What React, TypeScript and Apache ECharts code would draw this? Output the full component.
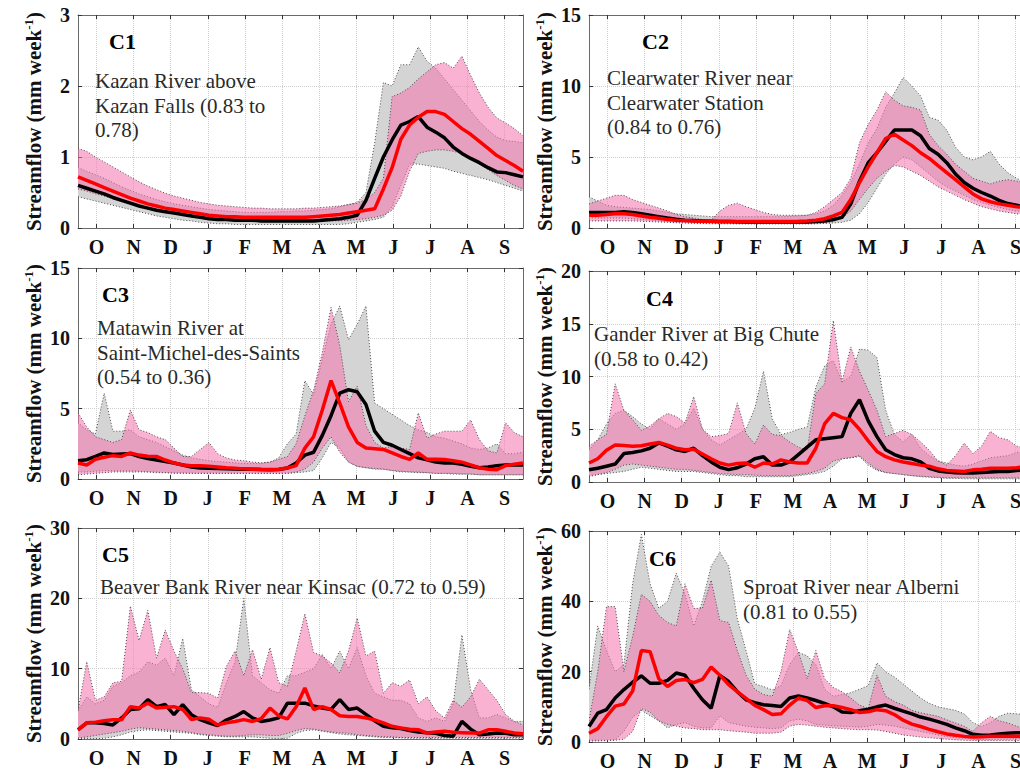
import React, { useEffect, useRef } from 'react';
import * as echarts from 'echarts';

const MONTHS = ['O', 'N', 'D', 'J', 'F', 'M', 'A', 'M', 'J', 'J', 'A', 'S'];
const WEEKS = Array.from({ length: 52 }, (_, i) => i);
const Y_NAME = 'Streamflow (mm week';

// ---------- C1 ----------
const OBS_MED_C1 = [0.60,0.56,0.52,0.48,0.43,0.39,0.35,0.31,0.28,0.25,0.23,0.21,0.19,
  0.17,0.15,0.13,0.12,0.12,0.11,0.11,0.11,0.10,0.10,0.10,0.10,0.10,
  0.10,0.10,0.11,0.12,0.13,0.15,0.18,0.39,0.70,1.00,1.24,1.45,1.50,
  1.57,1.42,1.35,1.27,1.14,1.05,0.98,0.92,0.85,0.79,0.78,0.75,0.72];
const SIM_MED_C1 = [0.72,0.67,0.62,0.57,0.52,0.47,0.42,0.38,0.34,0.31,0.28,0.26,0.24,
  0.22,0.20,0.18,0.17,0.16,0.16,0.15,0.15,0.15,0.15,0.15,0.15,0.15,
  0.15,0.16,0.17,0.18,0.19,0.21,0.23,0.25,0.27,0.55,0.85,1.25,1.45,
  1.56,1.64,1.64,1.60,1.50,1.40,1.32,1.22,1.12,1.02,0.95,0.88,0.80];
const OBS_MAX_C1 = [0.85,0.80,0.75,0.70,0.64,0.58,0.53,0.48,0.44,0.40,0.37,0.34,0.32,
  0.30,0.28,0.26,0.25,0.24,0.23,0.22,0.22,0.22,0.22,0.23,0.23,0.24,
  0.24,0.25,0.26,0.27,0.30,0.33,0.36,0.50,1.20,2.05,2.00,2.30,2.30,
  2.55,2.35,2.25,2.10,1.95,1.80,1.65,1.50,1.38,1.28,1.23,1.22,1.20];
const OBS_MIN_C1 = [0.44,0.41,0.38,0.35,0.32,0.29,0.26,0.23,0.20,0.17,0.15,0.13,0.11,
  0.10,0.08,0.07,0.06,0.06,0.05,0.05,0.05,0.05,0.05,0.05,0.05,0.05,
  0.05,0.05,0.05,0.05,0.05,0.06,0.08,0.10,0.12,0.15,0.30,0.60,0.90,
  0.90,0.88,0.86,0.84,0.80,0.77,0.74,0.71,0.68,0.64,0.60,0.56,0.52];
const SIM_MAX_C1 = [1.12,1.08,1.00,0.93,0.86,0.79,0.72,0.65,0.59,0.54,0.49,0.45,0.42,
  0.39,0.36,0.34,0.32,0.31,0.30,0.29,0.28,0.28,0.27,0.27,0.27,0.27,
  0.28,0.28,0.29,0.30,0.31,0.33,0.35,0.40,0.50,0.70,1.85,1.90,1.98,
  2.10,2.20,2.30,2.33,2.25,2.42,2.15,1.90,1.70,1.55,1.48,1.40,1.30];
const SIM_MIN_C1 = [0.55,0.52,0.48,0.45,0.41,0.37,0.33,0.30,0.27,0.24,0.22,0.20,0.18,
  0.16,0.14,0.13,0.12,0.11,0.11,0.10,0.10,0.10,0.10,0.10,0.10,0.10,
  0.10,0.10,0.10,0.10,0.10,0.11,0.12,0.13,0.15,0.18,0.25,0.45,0.80,
  1.05,1.08,1.10,1.10,1.08,1.05,0.98,0.90,0.82,0.74,0.67,0.60,0.55];

// ---------- C2 ----------
const OBS_MED_C2 = [1.10,1.10,1.10,1.10,1.15,1.10,1.00,0.90,0.80,0.70,0.62,0.55,0.52,
  0.50,0.48,0.45,0.45,0.44,0.43,0.42,0.42,0.42,0.42,0.42,0.42,0.43,
  0.45,0.50,0.60,0.75,1.70,3.30,4.60,5.30,6.10,6.90,6.90,6.90,6.50,
  5.60,5.20,4.60,3.80,3.20,2.80,2.50,2.25,1.95,1.72,1.60,1.45,1.35];
const SIM_MED_C2 = [0.90,0.90,0.95,1.00,1.00,0.95,0.85,0.75,0.68,0.60,0.55,0.52,0.50,
  0.48,0.47,0.46,0.45,0.45,0.45,0.45,0.45,0.45,0.45,0.45,0.47,0.50,
  0.55,0.65,0.85,1.10,2.00,3.20,4.30,5.30,6.30,6.60,6.20,5.80,5.30,
  4.90,4.40,3.90,3.40,2.90,2.40,2.05,1.85,1.70,1.60,1.50,1.45,1.40];
const OBS_MAX_C2 = [2.20,1.90,1.60,1.50,1.45,1.40,1.35,1.30,1.20,1.10,1.00,0.95,0.90,
  0.85,0.80,0.80,0.80,0.80,0.80,0.80,0.80,0.80,0.80,0.82,0.85,0.90,
  1.00,1.20,1.60,2.30,3.20,4.50,6.00,7.00,8.50,9.50,10.60,10.00,9.30,
  7.80,7.60,6.90,5.70,5.00,4.80,5.00,5.40,4.50,3.90,3.50,3.20,3.00];
const OBS_MIN_C2 = [0.70,0.70,0.70,0.70,0.70,0.65,0.60,0.55,0.50,0.45,0.40,0.38,0.36,
  0.35,0.33,0.32,0.31,0.30,0.30,0.30,0.30,0.30,0.30,0.30,0.30,0.30,
  0.30,0.32,0.35,0.40,0.55,1.00,1.80,2.80,3.80,4.50,5.00,4.80,4.30,
  3.80,3.30,2.90,2.60,2.30,2.00,1.80,1.60,1.45,1.30,1.20,1.10,1.00];
const SIM_MAX_C2 = [1.70,1.90,2.10,2.30,2.30,2.00,1.80,1.60,1.40,1.20,0.95,0.80,0.70,
  0.60,0.55,1.20,1.60,1.75,1.50,1.30,1.10,0.95,0.90,0.90,0.90,0.90,
  1.10,1.50,2.00,2.50,3.50,6.00,7.30,8.30,9.60,9.00,8.60,8.50,8.30,
  6.60,5.80,5.20,4.50,4.00,3.50,3.30,3.10,3.30,3.40,3.30,3.20,3.10];
const SIM_MIN_C2 = [0.50,0.50,0.50,0.50,0.50,0.50,0.48,0.45,0.42,0.40,0.37,0.35,0.33,
  0.32,0.30,0.30,0.30,0.30,0.30,0.30,0.30,0.30,0.30,0.30,0.30,0.30,
  0.30,0.35,0.45,0.70,1.20,2.00,2.80,3.50,4.00,4.40,4.30,4.00,3.70,
  3.30,2.90,2.60,2.30,2.00,1.75,1.50,1.35,1.20,1.10,1.00,0.95,0.90];

// ---------- C3 ----------
const OBS_MED_C3 = [1.30,1.37,1.60,1.85,1.75,1.78,1.80,1.60,1.45,1.35,1.25,1.14,1.00,
  0.85,0.78,0.76,0.74,0.72,0.71,0.70,0.69,0.67,0.66,0.68,0.78,1.14,
  1.70,1.90,3.10,4.50,6.10,6.35,6.20,5.30,3.40,2.60,2.40,2.10,1.80,
  1.50,1.37,1.20,1.14,1.14,1.05,0.90,0.80,0.85,0.95,1.00,1.00,1.00];
const SIM_MED_C3 = [1.14,1.00,1.40,1.55,1.66,1.60,1.85,1.70,1.62,1.60,1.35,1.14,1.00,
  0.95,0.95,0.90,0.85,0.80,0.76,0.72,0.70,0.68,0.67,0.70,0.78,0.95,
  2.20,3.00,4.90,7.00,5.40,3.70,2.60,2.20,2.15,2.10,1.85,1.60,1.40,
  1.85,1.40,1.40,1.38,1.30,1.20,1.00,0.80,0.70,0.66,0.95,1.05,1.14];
const OBS_MAX_C3 = [4.00,3.50,3.20,6.10,3.40,3.40,3.50,3.00,2.80,2.60,2.30,2.00,1.70,
  1.50,1.40,1.30,1.25,1.20,1.15,1.10,1.10,1.10,1.20,1.50,2.50,3.20,
  7.00,6.00,8.50,11.00,12.30,9.90,11.00,12.30,5.40,5.00,4.60,4.20,3.80,
  3.50,3.30,3.00,2.90,2.70,2.50,2.20,2.10,2.20,2.50,1.80,1.80,1.90];
const OBS_MIN_C3 = [0.50,0.50,0.55,0.60,0.60,0.60,0.60,0.55,0.50,0.50,0.45,0.45,0.45,
  0.40,0.40,0.40,0.40,0.40,0.40,0.40,0.40,0.40,0.40,0.40,0.40,0.45,
  0.50,0.60,1.50,2.60,2.20,1.20,0.90,0.80,0.70,0.70,0.60,0.50,0.50,
  0.45,0.45,0.40,0.40,0.35,0.35,0.35,0.30,0.30,0.30,0.30,0.30,0.30];
const SIM_MAX_C3 = [4.70,3.70,3.00,2.80,2.60,2.80,4.90,3.50,3.30,3.00,2.80,2.20,1.60,
  1.60,2.10,2.60,1.80,1.50,1.35,1.30,1.20,1.15,1.20,1.40,1.60,2.50,
  4.50,6.30,9.00,12.20,9.50,5.50,6.60,3.80,2.60,2.20,2.30,2.20,2.10,
  4.70,2.90,3.20,3.40,3.40,3.40,4.20,2.80,2.00,1.85,4.00,3.30,3.00];
const SIM_MIN_C3 = [0.30,0.35,0.40,0.45,0.50,0.50,0.50,0.50,0.50,0.45,0.45,0.40,0.40,
  0.40,0.40,0.40,0.40,0.40,0.40,0.40,0.40,0.40,0.40,0.40,0.40,0.50,
  0.70,1.20,2.20,3.00,1.90,1.20,0.90,0.80,0.75,0.70,0.60,0.55,0.50,
  0.50,0.45,0.40,0.40,0.40,0.35,0.35,0.30,0.30,0.30,0.30,0.30,0.30];

// ---------- C4 ----------
const OBS_MED_C4 = [1.17,1.30,1.50,1.70,2.70,2.80,2.95,3.20,3.70,3.40,3.05,2.90,3.20,
  2.50,1.90,1.40,1.17,1.35,1.70,2.20,2.40,1.60,1.60,1.90,2.60,3.30,
  4.00,4.10,4.20,4.30,6.50,7.80,5.80,4.30,3.05,2.60,2.30,2.20,1.90,
  1.30,1.05,0.95,0.88,0.85,0.85,0.90,0.95,1.00,1.00,1.10,1.15,1.20];
const SIM_MED_C4 = [1.80,2.20,3.00,3.50,3.45,3.40,3.43,3.60,3.75,3.50,3.20,3.05,3.10,
  2.65,2.20,1.80,1.60,1.75,1.80,1.40,1.80,1.70,2.10,1.90,1.80,1.80,
  3.20,5.50,6.50,6.10,5.90,5.00,3.90,2.90,2.40,2.10,1.90,1.75,1.60,
  1.50,1.25,1.10,1.05,1.00,1.15,1.20,1.30,1.30,1.30,1.35,1.45,1.50];
const OBS_MAX_C4 = [3.00,4.00,5.50,6.50,6.80,6.20,5.50,5.00,6.00,5.50,5.00,5.50,7.00,
  5.00,4.00,3.50,4.00,4.50,5.00,7.00,10.50,6.00,4.50,4.70,5.00,5.20,
  9.00,11.00,11.50,9.50,10.00,12.60,12.50,11.80,6.80,4.50,3.80,4.50,3.20,
  2.50,2.00,1.80,1.60,1.50,1.70,2.00,2.30,2.40,2.50,2.80,3.00,3.00];
const OBS_MIN_C4 = [0.60,0.70,0.80,0.90,1.00,1.20,1.40,1.30,1.20,1.10,1.00,1.00,1.00,
  0.90,0.80,0.70,0.60,0.60,0.50,0.50,0.50,0.50,0.50,0.50,0.60,0.70,
  0.80,1.00,1.50,2.20,2.30,2.40,1.60,1.10,0.90,0.80,0.70,0.60,0.50,
  0.45,0.40,0.35,0.35,0.30,0.30,0.30,0.30,0.30,0.30,0.30,0.30,0.30];
const SIM_MAX_C4 = [3.40,4.00,4.50,9.30,6.80,5.90,4.90,5.30,6.00,6.50,6.20,5.60,8.10,
  5.00,4.30,4.40,4.60,7.50,4.60,3.60,5.40,4.50,4.40,3.80,3.30,3.00,
  8.40,9.30,15.30,9.50,12.80,10.50,8.70,6.80,4.30,4.60,4.90,4.50,3.80,
  3.00,2.00,1.60,2.50,3.70,2.70,3.40,4.80,4.20,4.00,3.40,3.20,3.00];
const SIM_MIN_C4 = [0.50,0.70,0.90,1.20,1.60,1.70,1.60,1.50,1.40,1.30,1.20,1.20,1.10,
  1.00,0.90,0.80,0.75,0.70,0.70,0.65,0.60,0.60,0.60,0.60,0.70,0.80,
  1.00,1.30,2.00,2.20,2.30,2.50,1.80,1.20,0.90,0.80,0.70,0.60,0.55,
  0.50,0.45,0.40,0.40,0.40,0.40,0.40,0.40,0.40,0.40,0.40,0.40,0.40];

// ---------- C5 ----------
const OBS_MED_C5 = [1.30,2.30,2.30,2.20,2.00,3.00,4.20,4.30,5.60,4.60,4.90,3.45,4.90,
  3.45,2.75,2.30,1.90,2.70,3.20,3.90,3.00,2.50,2.70,3.00,5.10,5.10,
  5.10,4.70,4.40,4.20,5.60,4.20,4.40,3.50,2.60,1.80,1.60,1.50,1.20,
  1.00,0.90,0.80,0.50,0.40,2.50,1.40,0.60,0.70,0.85,0.80,0.60,0.60];
const SIM_MED_C5 = [1.30,2.30,2.40,2.60,2.75,2.75,4.60,4.40,5.10,4.40,4.50,4.60,4.20,
  2.75,3.00,2.80,2.00,2.30,2.50,2.75,2.50,2.90,4.40,3.30,2.85,4.60,
  7.25,4.20,4.60,4.20,3.30,3.20,3.20,3.00,2.70,2.30,1.80,1.56,1.40,
  1.33,0.85,1.00,1.10,0.95,0.90,0.85,0.85,1.30,1.33,1.10,0.85,0.75];
const OBS_MAX_C5 = [4.00,6.00,5.00,5.50,7.50,8.00,9.00,9.50,11.00,10.50,11.50,9.00,14.30,
  7.00,6.00,5.00,4.50,8.00,11.00,20.00,9.00,8.00,7.00,6.50,9.00,9.00,
  9.50,10.00,12.00,10.00,12.50,10.00,13.00,9.00,6.50,6.00,5.50,5.50,5.00,
  3.00,2.50,3.00,2.50,5.00,14.80,7.00,3.00,3.00,3.50,3.00,2.50,2.50];
const OBS_MIN_C5 = [0.10,0.05,0.05,0.10,0.30,0.60,1.00,1.20,1.30,1.20,1.10,1.00,0.90,
  0.80,0.60,0.50,0.40,0.30,0.30,0.30,0.30,0.20,0.10,0.05,0.10,0.80,
  1.20,1.30,1.10,0.90,0.70,0.60,0.50,0.40,0.30,0.20,0.20,0.15,0.10,
  0.10,0.10,0.10,0.10,0.10,0.10,0.10,0.10,0.10,0.10,0.10,0.10,0.10];
const SIM_MAX_C5 = [4.00,11.00,5.50,6.00,8.00,8.20,18.90,14.00,18.30,11.50,15.50,12.50,10.00,
  6.60,6.60,6.50,5.80,10.30,12.50,9.00,12.70,8.50,13.00,8.00,7.50,12.50,
  17.80,12.30,11.80,10.80,9.40,12.50,17.20,11.80,12.50,6.50,8.00,7.50,8.40,
  5.00,6.00,4.00,3.00,5.50,4.50,6.00,8.50,7.00,5.50,3.50,2.50,2.00];
const SIM_MIN_C5 = [0.10,0.30,0.50,0.70,0.90,1.10,1.40,1.60,1.50,1.40,1.30,1.20,1.10,
  0.90,0.70,0.60,0.50,0.40,0.40,0.50,0.60,0.60,0.50,0.50,0.80,1.20,
  1.50,1.40,1.20,1.00,0.90,0.80,0.60,0.50,0.40,0.30,0.30,0.20,0.20,
  0.20,0.20,0.20,0.20,0.20,0.20,0.20,0.20,0.20,0.20,0.20,0.20,0.20];

// ---------- C6 ----------
const OBS_MED_C6 = [4.40,8.20,9.20,12.50,14.90,17.00,18.80,16.70,16.70,17.50,19.60,19.00,15.30,
  12.00,9.60,18.90,17.20,14.30,12.00,11.20,10.60,10.40,10.10,12.50,13.10,12.50,
  11.80,11.00,10.00,8.50,8.40,8.90,9.30,10.00,10.50,9.60,8.80,8.00,7.10,
  6.50,5.80,5.00,4.00,3.20,2.20,1.90,2.00,2.30,2.50,2.60,2.70,2.80];
const SIM_MED_C6 = [2.50,3.80,7.20,10.20,10.80,14.50,26.00,25.70,18.00,15.80,17.50,17.80,16.90,
  17.80,21.30,19.00,16.30,14.30,12.40,10.40,9.20,7.80,8.00,10.50,12.50,11.80,
  9.80,10.30,10.30,9.80,9.20,8.40,8.60,9.20,8.90,7.80,6.20,5.10,4.40,
  3.60,2.90,2.30,1.90,1.60,1.40,1.50,1.60,1.60,1.60,1.60,1.60,1.60];
const OBS_MAX_C6 = [15.00,33.00,26.00,20.00,22.00,45.00,59.00,45.00,38.00,40.00,48.00,42.00,33.00,
  40.00,50.00,54.00,50.00,35.00,26.00,16.50,15.80,14.80,16.00,22.00,25.50,24.50,
  22.00,15.00,13.00,13.50,14.00,15.00,16.00,22.50,20.00,18.50,16.50,14.50,12.50,
  11.00,10.00,9.50,9.00,8.00,5.50,4.40,5.50,7.30,8.20,8.00,7.80,7.50];
const OBS_MIN_C6 = [0.50,0.50,0.50,0.60,3.00,7.00,9.00,7.50,6.00,4.00,5.00,5.50,4.50,
  4.00,4.00,7.50,5.50,5.00,4.50,4.20,4.00,3.80,4.00,6.00,6.50,6.00,
  5.00,4.80,4.60,4.50,4.40,4.20,4.50,5.00,4.80,4.50,4.00,3.50,3.00,
  2.50,2.00,1.50,1.20,1.00,0.80,0.70,0.70,0.80,0.80,0.90,1.00,1.00];
const SIM_MAX_C6 = [6.00,20.00,38.50,38.50,20.00,30.00,42.00,40.00,36.00,34.00,33.00,45.00,38.00,
  38.00,46.00,34.50,34.00,26.00,19.00,15.00,13.50,13.00,20.00,32.00,25.50,18.00,
  26.00,18.00,15.50,14.30,12.50,10.50,9.50,19.00,13.00,11.50,10.50,9.00,8.30,
  7.80,7.30,6.30,5.40,4.50,3.00,5.50,7.30,6.00,5.40,4.50,3.50,3.00];
const SIM_MIN_C6 = [0.30,0.30,0.40,0.50,0.80,3.00,9.50,8.50,6.00,5.00,4.50,4.00,3.80,
  3.50,3.50,3.50,3.20,3.00,2.80,2.50,2.50,2.50,2.80,4.50,5.00,4.80,
  4.50,4.20,4.00,3.80,3.60,3.50,3.50,3.40,3.00,2.50,2.00,1.70,1.40,
  1.20,1.00,0.80,0.60,0.50,0.40,0.40,0.40,0.40,0.40,0.40,0.40,0.40];

const Y_MAX = [3, 15, 15, 20, 30, 60];
const Y_STEP = [1, 5, 5, 5, 10, 20];
const TAGS = ['C1', 'C2', 'C3', 'C4', 'C5', 'C6'];
const NOTES = [
  'Kazan River above\nKazan Falls (0.83 to\n0.78)',
  'Clearwater River near\nClearwater Station\n(0.84 to 0.76)',
  'Matawin River at\nSaint-Michel-des-Saints\n(0.54 to 0.36)',
  'Gander River at Big Chute\n(0.58 to 0.42)',
  'Beaver Bank River near Kinsac (0.72 to 0.59)',
  'Sproat River near Alberni\n(0.81 to 0.55)',
];
const SERIES = [
  [OBS_MIN_C1, OBS_MAX_C1, SIM_MIN_C1, SIM_MAX_C1, OBS_MED_C1, SIM_MED_C1],
  [OBS_MIN_C2, OBS_MAX_C2, SIM_MIN_C2, SIM_MAX_C2, OBS_MED_C2, SIM_MED_C2],
  [OBS_MIN_C3, OBS_MAX_C3, SIM_MIN_C3, SIM_MAX_C3, OBS_MED_C3, SIM_MED_C3],
  [OBS_MIN_C4, OBS_MAX_C4, SIM_MIN_C4, SIM_MAX_C4, OBS_MED_C4, SIM_MED_C4],
  [OBS_MIN_C5, OBS_MAX_C5, SIM_MIN_C5, SIM_MAX_C5, OBS_MED_C5, SIM_MED_C5],
  [OBS_MIN_C6, OBS_MAX_C6, SIM_MIN_C6, SIM_MAX_C6, OBS_MED_C6, SIM_MED_C6],
];

// layout (pixels)
const GRIDS = [
  { left: 78, top: 15, width: 445, height: 213 },
  { left: 589, top: 15, width: 445, height: 213 },
  { left: 78, top: 268, width: 445, height: 211 },
  { left: 589, top: 271, width: 445, height: 211 },
  { left: 78, top: 528, width: 445, height: 211 },
  { left: 589, top: 531, width: 445, height: 211 },
];
const TAG_POS = [[109, 30], [642, 30], [102, 283], [646, 287], [102, 543], [649, 547]];
const NOTE_POS = [[95, 69], [607, 66], [97, 316], [594, 322], [100, 575], [743, 575]];

const SERIF = '"Liberation Serif", "Times New Roman", serif';
const GRAY = '#d4d4d4';
const PINK = 'rgba(245,115,175,0.55)';
const DOT_COLOR = '#4a4a4a';
const AXIS_COLOR = '#6a6a6a';

const HALF = Array.from({ length: 25 }, (_, i) => (i % 2 ? MONTHS[(i - 1) / 2] : ''));
const isMonth = (i: number) => i % 2 === 1;

function bandSeries(xi: number, yi: number, lo: number[], hi: number[], fill: string, z: number) {
  return {
    type: 'custom',
    coordinateSystem: 'cartesian2d',
    xAxisIndex: xi,
    yAxisIndex: yi,
    silent: true,
    z,
    clip: true,
    encode: { x: 0, y: [1, 2] },
    data: WEEKS.map((w, i) => [w, lo[i], hi[i]]),
    renderItem: (params: any, api: any) => {
      if (params.dataIndex !== 0) return { type: 'group', children: [] };
      const upper = WEEKS.map((w, i) => api.coord([w, hi[i]]));
      const lower = WEEKS.map((w, i) => api.coord([w, lo[i]]));
      const poly = upper.concat(lower.slice().reverse());
      const dash = { stroke: DOT_COLOR, lineWidth: 1, lineDash: [1, 2], fill: null };
      return {
        type: 'group',
        children: [
          { type: 'polygon', shape: { points: poly }, style: { fill, stroke: null } },
          { type: 'polyline', shape: { points: upper }, style: dash },
          { type: 'polyline', shape: { points: lower }, style: dash },
        ],
      };
    },
  };
}

function buildOption() {
  const xAxis: any[] = [];
  const yAxis: any[] = [];
  const series: any[] = [];
  const graphic: any[] = [];
  GRIDS.forEach((g, p) => {
    xAxis.push({ type: 'value', gridIndex: p, min: 0, max: 51, show: false });
    xAxis.push({
      type: 'category', gridIndex: p, data: HALF, boundaryGap: false, position: 'bottom',
      axisLine: { show: true, onZero: false, lineStyle: { color: AXIS_COLOR } },
      axisTick: { show: true, inside: true, length: 4, interval: isMonth, lineStyle: { color: '#333' } },
      axisLabel: { show: true, interval: isMonth, fontFamily: SERIF, fontWeight: 'bold', fontSize: 20, color: '#111', margin: 9 },
      splitLine: { show: true, interval: isMonth, lineStyle: { type: 'dotted', color: '#cfcfcf' } },
    });
    xAxis.push({
      type: 'category', gridIndex: p, data: HALF, boundaryGap: false, position: 'top',
      axisLine: { show: true, onZero: false, lineStyle: { color: AXIS_COLOR } },
      axisTick: { show: true, inside: true, length: 4, interval: isMonth, lineStyle: { color: '#333' } },
      axisLabel: { show: false }, splitLine: { show: false },
    });
    yAxis.push({
      type: 'value', gridIndex: p, min: 0, max: Y_MAX[p], interval: Y_STEP[p], position: 'left',
      axisLine: { show: true, lineStyle: { color: AXIS_COLOR } },
      axisTick: { show: true, inside: true, length: 4, lineStyle: { color: '#333' } },
      axisLabel: { fontFamily: SERIF, fontWeight: 'bold', fontSize: 20, color: '#111', margin: 8 },
      splitLine: { show: true, lineStyle: { type: 'dotted', color: '#cfcfcf' } },
      name: '{a|' + Y_NAME + '}{s|-1}{a|)}',
      nameLocation: 'middle', nameGap: 33, nameRotate: 90,
      nameTextStyle: {
        rich: {
          a: { fontFamily: SERIF, fontWeight: 'bold', fontSize: 21, color: '#111' },
          s: { fontFamily: SERIF, fontWeight: 'bold', fontSize: 13, color: '#111', verticalAlign: 'top', padding: [0, 0, 10, 0] },
        },
      },
    });
    yAxis.push({
      type: 'value', gridIndex: p, min: 0, max: Y_MAX[p], interval: Y_STEP[p], position: 'right',
      axisLine: { show: true, lineStyle: { color: AXIS_COLOR } },
      axisTick: { show: true, inside: true, length: 4, lineStyle: { color: '#333' } },
      axisLabel: { show: false }, splitLine: { show: false },
    });
    const xi = p * 3;
    const yi = p * 2;
    const [oMin, oMax, sMin, sMax, oMed, sMed] = SERIES[p];
    const pts = (arr: number[]) => arr.map((v, i) => [WEEKS[i], v]);
    const base = { type: 'line', xAxisIndex: xi, yAxisIndex: yi, symbol: 'none', silent: true };
    series.push(bandSeries(xi, yi, oMin, oMax, GRAY, 1));
    series.push(bandSeries(xi, yi, sMin, sMax, PINK, 2));
    series.push({ ...base, name: 'obsMed' + p, data: pts(oMed), lineStyle: { color: '#000', width: 3.5 }, z: 3 });
    series.push({ ...base, name: 'simMed' + p, data: pts(sMed), lineStyle: { color: '#ff0000', width: 3.5 }, z: 4 });

    graphic.push({
      type: 'text', left: TAG_POS[p][0], top: TAG_POS[p][1], z: 10,
      style: { text: TAGS[p], fontFamily: SERIF, fontWeight: 'bold', fontSize: 22, fill: '#000' },
    });
    graphic.push({
      type: 'text', left: NOTE_POS[p][0], top: NOTE_POS[p][1], z: 10,
      style: { text: NOTES[p], fontFamily: SERIF, fontSize: 21, lineHeight: 24.5, fill: '#2a2a2a' },
    });
  });
  return {
    animation: false,
    backgroundColor: '#fff',
    grid: GRIDS.map((g) => ({ ...g, containLabel: false })),
    xAxis, yAxis, series, graphic,
  };
}

export default function App() {
  const ref = useRef<HTMLDivElement>(null);
  useEffect(() => {
    if (!ref.current) return;
    const chart = echarts.init(ref.current, null, { renderer: 'svg' });
    chart.setOption(buildOption() as any);
    return () => chart.dispose();
  }, []);
  return (
    <div style={{ position: 'fixed', left: 0, top: 0, width: 1020, height: 773, overflow: 'hidden', background: '#fff' }}>
      <div ref={ref} style={{ width: 1040, height: 773 }} />
    </div>
  );
}
